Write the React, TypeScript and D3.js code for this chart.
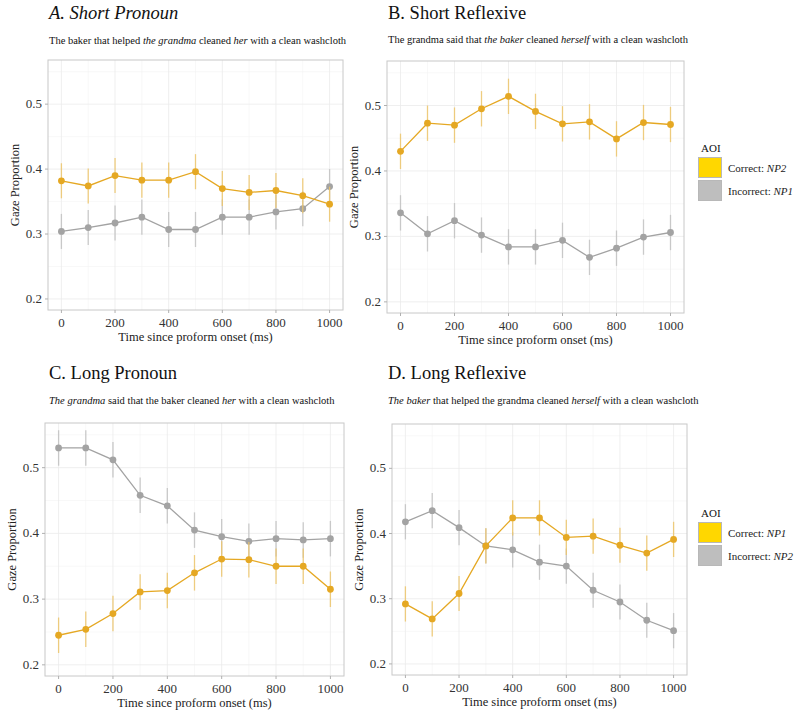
import React from "react";
import * as d3 from "d3";

const times = [0, 100, 200, 300, 400, 500, 600, 700, 800, 900, 1000];
const xTicks = [0, 200, 400, 600, 800, 1000];
const yTicks = [0.2, 0.3, 0.4, 0.5];

const aCorrect = [0.382, 0.374, 0.39, 0.383, 0.383, 0.396, 0.37, 0.364, 0.367, 0.359, 0.346];
const aIncorrect = [0.304, 0.31, 0.317, 0.326, 0.307, 0.307, 0.326, 0.326, 0.334, 0.339, 0.373];
const bCorrect = [0.43, 0.473, 0.47, 0.495, 0.514, 0.491, 0.472, 0.475, 0.449, 0.474, 0.471];
const bIncorrect = [0.336, 0.304, 0.324, 0.302, 0.284, 0.284, 0.294, 0.268, 0.282, 0.299, 0.306];
const cCorrect = [0.245, 0.254, 0.278, 0.311, 0.313, 0.34, 0.361, 0.36, 0.35, 0.35, 0.315];
const cIncorrect = [0.53, 0.53, 0.512, 0.458, 0.442, 0.405, 0.395, 0.388, 0.392, 0.39, 0.392];
const dCorrect = [0.292, 0.269, 0.308, 0.381, 0.424, 0.424, 0.394, 0.396, 0.382, 0.37, 0.391];
const dIncorrect = [0.418, 0.435, 0.409, 0.381, 0.375, 0.356, 0.35, 0.313, 0.295, 0.267, 0.251];
const errHalf = 0.027;

const titles = ["A. Short Pronoun", "B. Short Reflexive", "C. Long Pronoun", "D. Long Reflexive"];
const legendTop = ["NP2", "NP1"];
const legendBottom = ["NP1", "NP2"];

const YELLOW = "#E5A823";
const YELLOW_ERR = "#EDC56A";
const GRAY = "#A3A3A3";
const GRAY_ERR = "#C2C2C2";
const FONT = "'Liberation Serif', 'Times New Roman', serif";

type Seg = { t: string; i?: boolean };

const subtitles: Seg[][] = [
  [{ t: "The baker that helped " }, { t: "the grandma", i: true }, { t: " cleaned " }, { t: "her", i: true }, { t: " with a clean washcloth" }],
  [{ t: "The grandma said that " }, { t: "the baker", i: true }, { t: " cleaned " }, { t: "herself", i: true }, { t: " with a clean washcloth" }],
  [{ t: "The grandma", i: true }, { t: " said that the baker cleaned " }, { t: "her", i: true }, { t: " with a clean washcloth" }],
  [{ t: "The baker", i: true }, { t: " that helped the grandma cleaned " }, { t: "herself", i: true }, { t: " with a clean washcloth" }],
];

type Box = { x0: number; x1: number; y0: number; y1: number; tx: number; ty: number; sy: number };

const boxes: Box[] = [
  { x0: 48, x1: 343, y0: 60, y1: 310, tx: 49, ty: 19, sy: 44 },
  { x0: 387, x1: 684, y0: 61, y1: 313, tx: 388, ty: 19, sy: 43 },
  { x0: 45, x1: 344, y0: 423, y1: 676, tx: 49, ty: 379, sy: 404 },
  { x0: 392, x1: 687, y0: 424, y1: 675, tx: 388, ty: 379, sy: 404 },
];

const seriesData = [
  [aCorrect, aIncorrect],
  [bCorrect, bIncorrect],
  [cCorrect, cIncorrect],
  [dCorrect, dIncorrect],
];

function Panel({ idx }: { idx: number }) {
  const b = boxes[idx];
  const x = d3.scaleLinear().domain([-50, 1050]).range([b.x0, b.x1]);
  const y = d3.scaleLinear().domain([0.183, 0.568]).range([b.y1, b.y0]);
  const line = d3
    .line<number>()
    .x((_, i) => x(times[i]))
    .y((v) => y(v));
  const minorX = d3.range(100, 1000, 200);
  const minorY = [0.25, 0.35, 0.45, 0.55];
  const [correct, incorrect] = seriesData[idx];
  const renderSeries = (vals: number[], col: string, errCol: string, key: string) => (
    <g key={key}>
      {vals.map((v, i) => (
        <line key={"e" + i} x1={x(times[i])} x2={x(times[i])} y1={y(v - errHalf)} y2={y(v + errHalf)} stroke={errCol} strokeWidth={1.3} opacity={0.85} />
      ))}
      <path d={line(vals) || ""} fill="none" stroke={col} strokeWidth={1.3} />
      {vals.map((v, i) => (
        <circle key={"p" + i} cx={x(times[i])} cy={y(v)} r={3.4} fill={col} />
      ))}
    </g>
  );
  const italicTitle = idx === 0;
  return (
    <g>
      <text x={b.tx} y={b.ty} fontSize={18.5} fontStyle={italicTitle ? "italic" : "normal"} fontFamily={FONT} fill="#111">
        {titles[idx]}
      </text>
      <text x={b.tx} y={b.sy} fontSize={10.5} fontFamily={FONT} fill="#111">
        {subtitles[idx].map((s, k) => (
          <tspan key={k} fontStyle={s.i ? "italic" : "normal"}>
            {s.t}
          </tspan>
        ))}
      </text>
      {minorX.map((t) => (
        <line key={"mx" + t} x1={x(t)} x2={x(t)} y1={b.y0} y2={b.y1} stroke="#F4F4F4" strokeWidth={0.6} />
      ))}
      {minorY.map((t) => (
        <line key={"my" + t} x1={b.x0} x2={b.x1} y1={y(t)} y2={y(t)} stroke="#F4F4F4" strokeWidth={0.6} />
      ))}
      {xTicks.map((t) => (
        <line key={"gx" + t} x1={x(t)} x2={x(t)} y1={b.y0} y2={b.y1} stroke="#EBEBEB" strokeWidth={0.8} />
      ))}
      {yTicks.map((t) => (
        <line key={"gy" + t} x1={b.x0} x2={b.x1} y1={y(t)} y2={y(t)} stroke="#EBEBEB" strokeWidth={0.8} />
      ))}
      <rect x={b.x0} y={b.y0} width={b.x1 - b.x0} height={b.y1 - b.y0} fill="none" stroke="#C8C8C8" strokeWidth={1} />
      {xTicks.map((t) => (
        <g key={"tx" + t}>
          <line x1={x(t)} x2={x(t)} y1={b.y1} y2={b.y1 + 3} stroke="#B0B0B0" />
          <text x={x(t)} y={b.y1 + 17} textAnchor="middle" fontSize={13} fontFamily={FONT} fill="#333">
            {t}
          </text>
        </g>
      ))}
      {yTicks.map((t) => (
        <g key={"ty" + t}>
          <line x1={b.x0 - 3} x2={b.x0} y1={y(t)} y2={y(t)} stroke="#B0B0B0" />
          <text x={b.x0 - 6} y={y(t) + 4} textAnchor="end" fontSize={13} fontFamily={FONT} fill="#333">
            {t.toFixed(1)}
          </text>
        </g>
      ))}
      <text x={(b.x0 + b.x1) / 2} y={b.y1 + 31} textAnchor="middle" fontSize={12.5} fontFamily={FONT} fill="#222">
        Time since proform onset (ms)
      </text>
      <text
        transform={`translate(${b.x0 - 29},${(b.y0 + b.y1) / 2}) rotate(-90)`}
        textAnchor="middle"
        fontSize={12.5}
        fontFamily={FONT}
        fill="#222"
      >
        Gaze Proportion
      </text>
      {renderSeries(incorrect, GRAY, GRAY_ERR, "inc")}
      {renderSeries(correct, YELLOW, YELLOW_ERR, "cor")}
    </g>
  );
}

function Legend({ top, labels }: { top: number; labels: string[] }) {
  return (
    <g fontFamily={FONT}>
      <text x={701} y={top} fontSize={11} fill="#111">
        AOI
      </text>
      <rect x={698.5} y={top + 5.5} width={23} height={20} fill="#FFD700" stroke="#B8B8B8" />
      <rect x={698.5} y={top + 28.5} width={23} height={20} fill="#BEBEBE" stroke="#B8B8B8" />
      <text x={728} y={top + 20} fontSize={11} fill="#222">
        Correct: <tspan fontStyle="italic">{labels[0]}</tspan>
      </text>
      <text x={728} y={top + 43} fontSize={11} fill="#222">
        Incorrect: <tspan fontStyle="italic">{labels[1]}</tspan>
      </text>
    </g>
  );
}

export default function App() {
  return (
    <svg width={800} height={723} style={{ position: "absolute", left: 0, top: 0, background: "#fff" }}>
      <rect width={800} height={723} fill="#fff" />
      {[0, 1, 2, 3].map((i) => (
        <Panel key={i} idx={i} />
      ))}
      <Legend top={152} labels={legendTop} />
      <Legend top={517} labels={legendBottom} />
    </svg>
  );
}
